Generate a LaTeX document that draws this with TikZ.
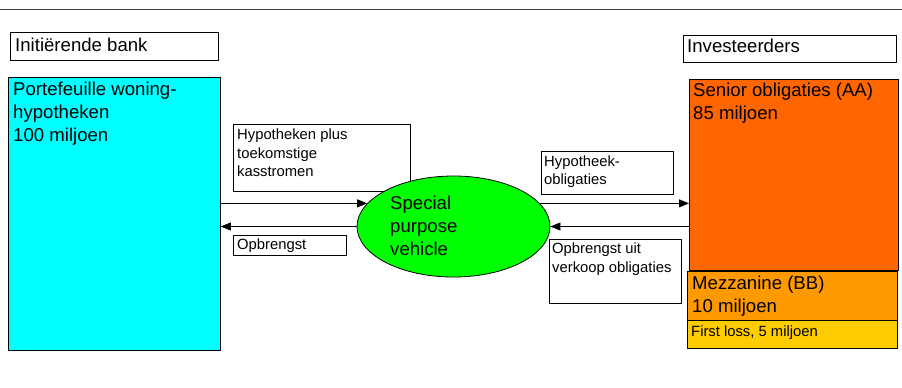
\documentclass[tikz,border=0pt]{standalone}
\usepackage{fontspec}
\setmainfont{Liberation Sans}
\usetikzlibrary{shapes.geometric,arrows.meta}
\definecolor{bankcyan}{HTML}{00FFFF}
\definecolor{spvgreen}{HTML}{00FF00}
\definecolor{seniororange}{HTML}{FF6600}
\definecolor{mezzorange}{HTML}{FF9900}
\definecolor{lossyellow}{HTML}{FFCC00}
\tikzset{
  box/.style={draw, line width=0.8pt, anchor=north west, inner sep=0pt},
  bigtxt/.style={font=\fontsize{18.6}{23}\selectfont, align=left, anchor=base west, inner sep=0pt},
  smalltxt/.style={font=\fontsize{14.8}{18.5}\selectfont, align=left, anchor=base west, inner sep=0pt},
  arr/.style={-{Triangle[length=10pt,width=8pt]}, line width=0.8pt}
}

\begin{document}
\begin{tikzpicture}[x=1pt,y=-1pt]
	\useasboundingbox (0,0) rectangle (902,388);
	\draw[line width=0.8pt, black!75] (0,9.5) -- (902,9.5);

	% bank side (multi-line texts are placed by their last baseline)
	\node[box, minimum width=208, minimum height=28] (bankhdr) at (10,32) {};
	\node[bigtxt] (bankhdrtxt) at (15,51) {Initiërende bank};
	\node[box, fill=bankcyan, minimum width=212, minimum height=273] (portfolio) at (8,77) {};
	\node[bigtxt] (portfoliotxt) at (13,141.5) {Portefeuille woning-\\hypotheken\\100 miljoen};
	\node[box, minimum width=177, minimum height=67] (hypbox) at (233,124) {};
	\node[smalltxt] (hyptxt) at (237,176.5) {Hypotheken plus\\toekomstige\\kasstromen};
	\node[box, minimum width=113, minimum height=20] (opbrbox) at (233,235) {};
	\node[smalltxt] (opbrtxt) at (237,249.5) {Opbrengst};

	% special purpose vehicle
	\node[draw, line width=0.8pt, ellipse, fill=spvgreen, minimum width=193, minimum height=101, inner sep=0pt] (spv) at (453.5,226.5) {};
	\node[bigtxt] (spvtxt) at (390,255) {Special\\purpose\\vehicle};

	% investors side
	\node[box, minimum width=213, minimum height=27] (invhdr) at (683,35) {};
	\node[bigtxt] (invhdrtxt) at (687,52.5) {Investeerders};
	\node[box, fill=seniororange, minimum width=209, minimum height=191] (senior) at (689,79) {};
	\node[bigtxt] (seniortxt) at (693,119.5) {Senior obligaties (AA)\\85 miljoen};
	\node[box, fill=mezzorange, minimum width=210, minimum height=49] (mezz) at (687,271) {};
	\node[bigtxt] (mezztxt) at (692,312) {Mezzanine (BB)\\10 miljoen};
	\node[box, fill=lossyellow, minimum width=210, minimum height=28] (firstloss) at (687,320) {};
	\node[smalltxt] (firstlosstxt) at (691,336) {First loss, 5 miljoen};
	\node[box, minimum width=132, minimum height=43] (hoblbox) at (541,151) {};
	\node[smalltxt] (hobltxt) at (544,184.5) {Hypotheek-\\obligaties};
	\node[box, minimum width=132, minimum height=64] (opbruitbox) at (549,239) {};
	\node[smalltxt] (opbruittxt) at (552,272) {Opbrengst uit\\verkoop obligaties};

	% flows
	\draw[arr] (portfolio.east |- spv.165) -- (spv.165);
	\draw[arr] (spv.west) -- (portfolio.east |- spv.west);
	\draw[arr] (spv.15) -- (senior.west |- spv.15);
	\draw[arr] (senior.west |- spv.east) -- (spv.east);
\end{tikzpicture}
\end{document}
